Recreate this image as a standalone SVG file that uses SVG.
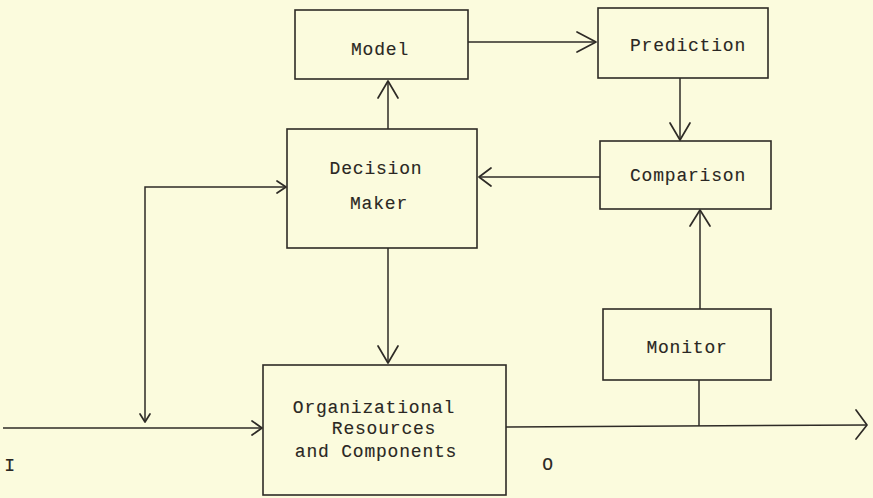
<svg xmlns="http://www.w3.org/2000/svg" width="873" height="498" viewBox="0 0 873 498">
  <style>
    .box { fill: none; stroke: #2e2b26; stroke-width: 1.6; }
    .ln { fill: none; stroke: #2e2b26; stroke-width: 1.5; }
    .hd { fill: none; stroke: #2e2b26; stroke-width: 1.7; stroke-linecap: round; stroke-linejoin: round; }
    text { font-family: "Liberation Mono", "DejaVu Sans Mono", monospace; font-size: 18px; letter-spacing: 0.8px; fill: #2a2723; stroke: #2a2723; stroke-width: 0.12; text-anchor: middle; }
  </style>
  <rect width="873" height="498" fill="#fbfbdd"/>

  <g id="connectors">
    <!-- Model -> Prediction -->
    <line class="ln" x1="468" y1="42" x2="596" y2="42"/>
    <polyline class="hd" points="577,32 596,42 577,52"/>
    <!-- Decision Maker -> Model -->
    <line class="ln" x1="388" y1="129" x2="388" y2="81"/>
    <polyline class="hd" points="378,98 388,81 398,98"/>
    <!-- Prediction -> Comparison -->
    <line class="ln" x1="680" y1="78" x2="680" y2="140"/>
    <polyline class="hd" points="670,123 680,140 690,123"/>
    <!-- Comparison -> Decision Maker -->
    <line class="ln" x1="600" y1="177" x2="479" y2="177"/>
    <polyline class="hd" points="491,168 479,177 491,186"/>
    <!-- Monitor -> Comparison -->
    <line class="ln" x1="700" y1="309" x2="700" y2="210"/>
    <polyline class="hd" points="690,226 700,210 710,226"/>
    <!-- Decision Maker -> Organizational Resources -->
    <line class="ln" x1="388" y1="248" x2="388" y2="363"/>
    <polyline class="hd" points="378,346 388,363 398,346"/>
    <!-- feedback loop between input line and Decision Maker -->
    <polyline class="ln" points="145,422 145,187 286,187"/>
    <polyline class="hd" points="277,181 286,187 277,193"/>
    <polyline class="hd" points="140,414 145,422 150,414"/>
    <!-- input line I -->
    <line class="ln" x1="3" y1="428" x2="262" y2="428"/>
    <polyline class="hd" points="252,421 262,428 252,435"/>
    <!-- output line O -->
    <line class="ln" x1="506" y1="427" x2="867" y2="425"/>
    <polyline class="hd" points="856,410 867,425 856,439"/>
    <!-- Monitor tap on output -->
    <line class="ln" x1="699" y1="380" x2="699" y2="426"/>
  </g>

  <g id="model">
    <rect class="box" x="295" y="10" width="173" height="69"/>
    <text x="380" y="55">Model</text>
  </g>
  <g id="prediction">
    <rect class="box" x="598" y="8" width="170" height="70"/>
    <text x="688" y="51">Prediction</text>
  </g>
  <g id="decision-maker">
    <rect class="box" x="287" y="129" width="190" height="119"/>
    <text x="376" y="174">Decision</text>
    <text x="379" y="209">Maker</text>
  </g>
  <g id="comparison">
    <rect class="box" x="600" y="141" width="171" height="68"/>
    <text x="688" y="181">Comparison</text>
  </g>
  <g id="monitor">
    <rect class="box" x="603" y="309" width="168" height="71"/>
    <text x="687" y="353">Monitor</text>
  </g>
  <g id="org-resources">
    <rect class="box" x="263" y="365" width="243" height="130"/>
    <text x="374" y="413">Organizational</text>
    <text x="384" y="434">Resources</text>
    <text x="376" y="457">and Components</text>
  </g>
  <g id="labels">
    <text x="10" y="471">I</text>
    <text x="548" y="470">O</text>
  </g>
</svg>
